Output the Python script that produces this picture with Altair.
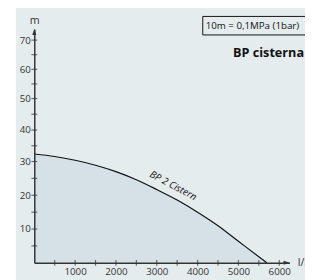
import altair as alt
import pandas as pd

# Pump curve (flow l/min vs head m)
flow = [0, 500, 1000, 1500, 2000, 2500, 3000, 3500, 4000, 4500, 5000, 5500, 5700]
head = [32.4, 31.6, 30.4, 28.9, 27.0, 24.6, 21.7, 18.6, 15.0, 11.0, 6.4, 1.8, 0.0]

x_labels = [1000, 2000, 3000, 4000, 5000, 6000]
x_ticks = [500, 1000, 1500, 2000, 2500, 3000, 3500, 4000, 4500, 5000, 5500, 6000]
y_labels = [10, 20, 30, 40, 50, 60, 70]
y_ticks = [5, 10, 15, 20, 25, 30, 35, 40, 45, 50, 55, 60, 65, 70]

series_name = "BP 2 Cistern"
label_pos = [3400, 22.8]
title_text = "BP cisterna"
box_text = "10m = 0,1MPa (1bar)"

BG = "#e5ecee"
FILL = "#d6e1e7"
AX = "#333333"
FONT = "Open Sans"

W, H = 262, 240

xscale = alt.Scale(domain=[0, 6250], nice=False)
yscale = alt.Scale(domain=[0, 30, 50, 70, 73.8], range=[240, 136, 71.3, 11.3, 0], nice=False, zero=False)

df = pd.DataFrame({"Q": flow, "H": head})
one = pd.DataFrame({"a": [0]})

xaxis = alt.Axis(values=x_labels, title="l/min", ticks=False, tickSize=0, labelPadding=4,
                 grid=False, domainColor=AX, domainWidth=1.5, labelFont=FONT, labelFontSize=10,
                 labelColor=AX, titleX=270, titleY=0, titleAlign="left", titleBaseline="middle",
                 titleAngle=0, titleFontWeight="normal", titleFontSize=11, titleFont=FONT,
                 titleColor=AX, format="d", zindex=1)
yaxis = alt.Axis(values=y_labels, title="m", ticks=False, tickSize=0, labelPadding=4,
                 grid=False, domainColor=AX, domainWidth=1.5, labelFont=FONT, labelFontSize=10,
                 labelColor=AX, titleX=0, titleY=-8.5, titleAlign="center", titleBaseline="middle",
                 titleAngle=0, titleFontWeight="normal", titleFontSize=11, titleFont=FONT,
                 titleColor=AX, zindex=1)

panel = alt.Chart(one).mark_rect(fill=BG).encode(
    x=alt.value(-19), x2=alt.value(300), y=alt.value(-30), y2=alt.value(300)
)

area = alt.Chart(df).mark_area(interpolate="monotone", color=FILL).encode(
    x=alt.X("Q:Q", scale=xscale, axis=xaxis),
    y=alt.Y("H:Q", scale=yscale, axis=yaxis),
)
line = alt.Chart(df).mark_line(interpolate="monotone", color="#111111", strokeWidth=1.2).encode(
    x=alt.X("Q:Q", scale=xscale, axis=xaxis),
    y=alt.Y("H:Q", scale=yscale, axis=yaxis),
)

yt = alt.Chart(pd.DataFrame({"H": y_ticks})).mark_tick(orient="horizontal", size=6, thickness=1.2, color=AX).encode(
    y=alt.Y("H:Q", scale=yscale, axis=yaxis),
    x=alt.value(0),
)
xt = alt.Chart(pd.DataFrame({"Q": x_ticks})).mark_tick(orient="vertical", size=6, thickness=1.2, color=AX).encode(
    x=alt.X("Q:Q", scale=xscale, axis=xaxis),
    y=alt.value(H),
)

label = alt.Chart(pd.DataFrame({"Q": [label_pos[0]], "H": [label_pos[1]], "t": [series_name]})).mark_text(
    angle=28, fontStyle="italic", fontSize=10, font=FONT, color="#111111", align="center", baseline="middle"
).encode(
    x=alt.X("Q:Q", scale=xscale, axis=xaxis),
    y=alt.Y("H:Q", scale=yscale, axis=yaxis),
    text="t:N",
)

arrow_up = alt.Chart(one).mark_point(shape="M0,-1L0.7,1L-0.7,1Z", filled=True, size=36, color=AX, opacity=1).encode(
    x=alt.value(0), y=alt.value(3)
)
arrow_right = alt.Chart(one).mark_point(shape="M1,0L-1,-0.7L-1,0.7Z", filled=True, size=36, color=AX, opacity=1).encode(
    x=alt.value(W - 3), y=alt.value(H)
)

box = alt.Chart(one).mark_rect(fill=BG, stroke="#111111", strokeWidth=1).encode(
    x=alt.value(173), x2=alt.value(290), y=alt.value(-13), y2=alt.value(6)
)
boxtext = alt.Chart(one).mark_text(align="left", baseline="middle", fontSize=10, font=FONT, color="#111111").encode(
    x=alt.value(176), y=alt.value(-3.5), text=alt.value(box_text)
)
title = alt.Chart(one).mark_text(align="right", baseline="middle", fontSize=13, fontWeight="bold", font=FONT, color="#111111").encode(
    x=alt.value(277), y=alt.value(24.5), text=alt.value(title_text)
)

chart = alt.layer(panel, area, line, yt, xt, label, arrow_up, arrow_right, box, boxtext, title).properties(
    width=W, height=H, background="white",
    padding={"left": 27, "top": 18, "right": 16, "bottom": 14},
    autosize=alt.AutoSizeParams(type="none"),
).configure_view(stroke=None)

chart.save("out.html", embed_options={"renderer": "svg", "actions": False})
